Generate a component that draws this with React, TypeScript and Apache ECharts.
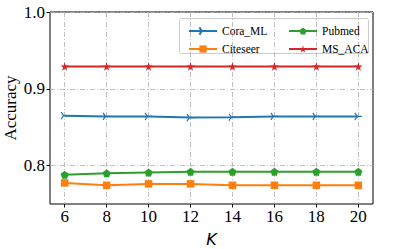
import React, { useEffect, useRef } from "react";
import * as echarts from "echarts";

const kValues = [6, 8, 10, 12, 14, 16, 18, 20];
const coraML = [0.865, 0.864, 0.864, 0.8625, 0.863, 0.864, 0.864, 0.864];
const citeseer = [0.7775, 0.7744, 0.7762, 0.7762, 0.7744, 0.7744, 0.7744, 0.7744];
const pubmed = [0.788, 0.790, 0.791, 0.792, 0.792, 0.792, 0.792, 0.792];
const msACA = [0.929, 0.929, 0.929, 0.929, 0.929, 0.929, 0.929, 0.929];
const xTicks = [6, 8, 10, 12, 14, 16, 18, 20];
const yTicks = [0.8, 0.9, 1.0];

const triRight = "path://M5,5L10,5M5,5L2.5,0.67M5,5L2.5,9.33";
const pentagon =
  "path://M0,-1L0.951,-0.309L0.588,0.809L-0.588,0.809L-0.951,-0.309Z";
const star =
  "path://M0,-1L0.2245,-0.309L0.951,-0.309L0.3633,0.118L0.5878,0.809L0,0.382L-0.5878,0.809L-0.3633,0.118L-0.951,-0.309L-0.2245,-0.309Z";

const SERIF = "'Liberation Serif', serif";

export default function App() {
  const ref = useRef<HTMLDivElement>(null);
  useEffect(() => {
    if (!ref.current) return;
    const chart = echarts.init(ref.current, null, { renderer: "svg" });
    const pair = (ys: number[]) => kValues.map((k, i) => [k, ys[i]]);
    const gridLine = { show: true, lineStyle: { color: "#b0b0b0", width: 0.8, type: [5, 2, 1, 2] as any } };
    chart.setOption({
      animation: false,
      backgroundColor: "#fff",
      textStyle: { fontFamily: SERIF },
      grid: {
        left: 50,
        right: 42,
        top: 12,
        bottom: 45,
        outerBoundsMode: "none",
        containLabel: false,
        show: true,
        borderColor: "#000",
        borderWidth: 1,
        backgroundColor: "transparent",
      },
      xAxis: {
        type: "value",
        min: 5.3,
        max: 20.7,
        name: "K",
        nameLocation: "middle",
        nameGap: 27,
        nameMoveOverlap: false,
        nameTextStyle: { fontFamily: "DejaVu Sans", fontStyle: "italic", fontSize: 16, color: "#000" },
        axisLine: { show: false },
        axisTick: { show: true, customValues: xTicks, length: 3.5, lineStyle: { color: "#000" } },
        axisLabel: { customValues: xTicks, fontFamily: SERIF, fontSize: 17, color: "#000", margin: 4 },
        splitLine: gridLine,
      },
      yAxis: {
        type: "value",
        min: 0.75,
        max: 1.0,
        name: "Accuracy",
        nameLocation: "middle",
        nameGap: 31,
        nameMoveOverlap: false,
        nameTextStyle: { fontFamily: SERIF, fontSize: 17, color: "#000" },
        axisLine: { show: false },
        axisTick: { show: true, customValues: yTicks, length: 3.5, lineStyle: { color: "#000" } },
        axisLabel: {
          customValues: yTicks,
          fontFamily: SERIF,
          fontSize: 17,
          color: "#000",
          margin: 5,
          formatter: (v: number) => v.toFixed(1),
        },
        splitLine: gridLine,
      },
      legend: [
        {
          left: 183,
          top: 20,
          orient: "vertical",
          itemWidth: 28,
          itemHeight: 9,
          itemGap: 6,
          textStyle: { fontFamily: SERIF, fontSize: 11.5, color: "#000" },
          data: ["Cora_ML", "Citeseer"],
        },
        {
          left: 283,
          top: 20,
          orient: "vertical",
          itemWidth: 28,
          itemHeight: 9,
          itemGap: 6,
          textStyle: { fontFamily: SERIF, fontSize: 11.5, color: "#000" },
          data: ["Pubmed", "MS_ACA"],
        },
      ],
      graphic: [
        {
          type: "rect",
          left: 179,
          top: 18,
          z: 0,
          shape: { width: 189, height: 35, r: 2 },
          style: { fill: "rgba(255,255,255,0.8)", stroke: "#cccccc", lineWidth: 1 },
        },
      ],
      series: [
        {
          name: "Cora_ML",
          type: "line",
          data: pair(coraML),
          color: "#1f77b4",
          lineStyle: { width: 2 },
          symbol: triRight,
          symbolSize: 7,
          itemStyle: { color: "#1f77b4", borderColor: "#1f77b4", borderWidth: 1.2 },
          z: 3,
        },
        {
          name: "Citeseer",
          type: "line",
          data: pair(citeseer),
          color: "#ff7f0e",
          lineStyle: { width: 2 },
          symbol: "rect",
          symbolSize: 7.5,
          itemStyle: { color: "#ff7f0e" },
          z: 3,
        },
        {
          name: "Pubmed",
          type: "line",
          data: pair(pubmed),
          color: "#2ca02c",
          lineStyle: { width: 2 },
          symbol: pentagon,
          symbolSize: 8,
          itemStyle: { color: "#2ca02c" },
          z: 3,
        },
        {
          name: "MS_ACA",
          type: "line",
          data: pair(msACA),
          color: "#d62728",
          lineStyle: { width: 2 },
          symbol: star,
          symbolSize: 8.5,
          itemStyle: { color: "#d62728" },
          z: 3,
        },
      ],
    });
    return () => chart.dispose();
  }, []);
  return <div ref={ref} style={{ position: "fixed", left: 0, top: 0, width: 415, height: 249 }} />;
}
